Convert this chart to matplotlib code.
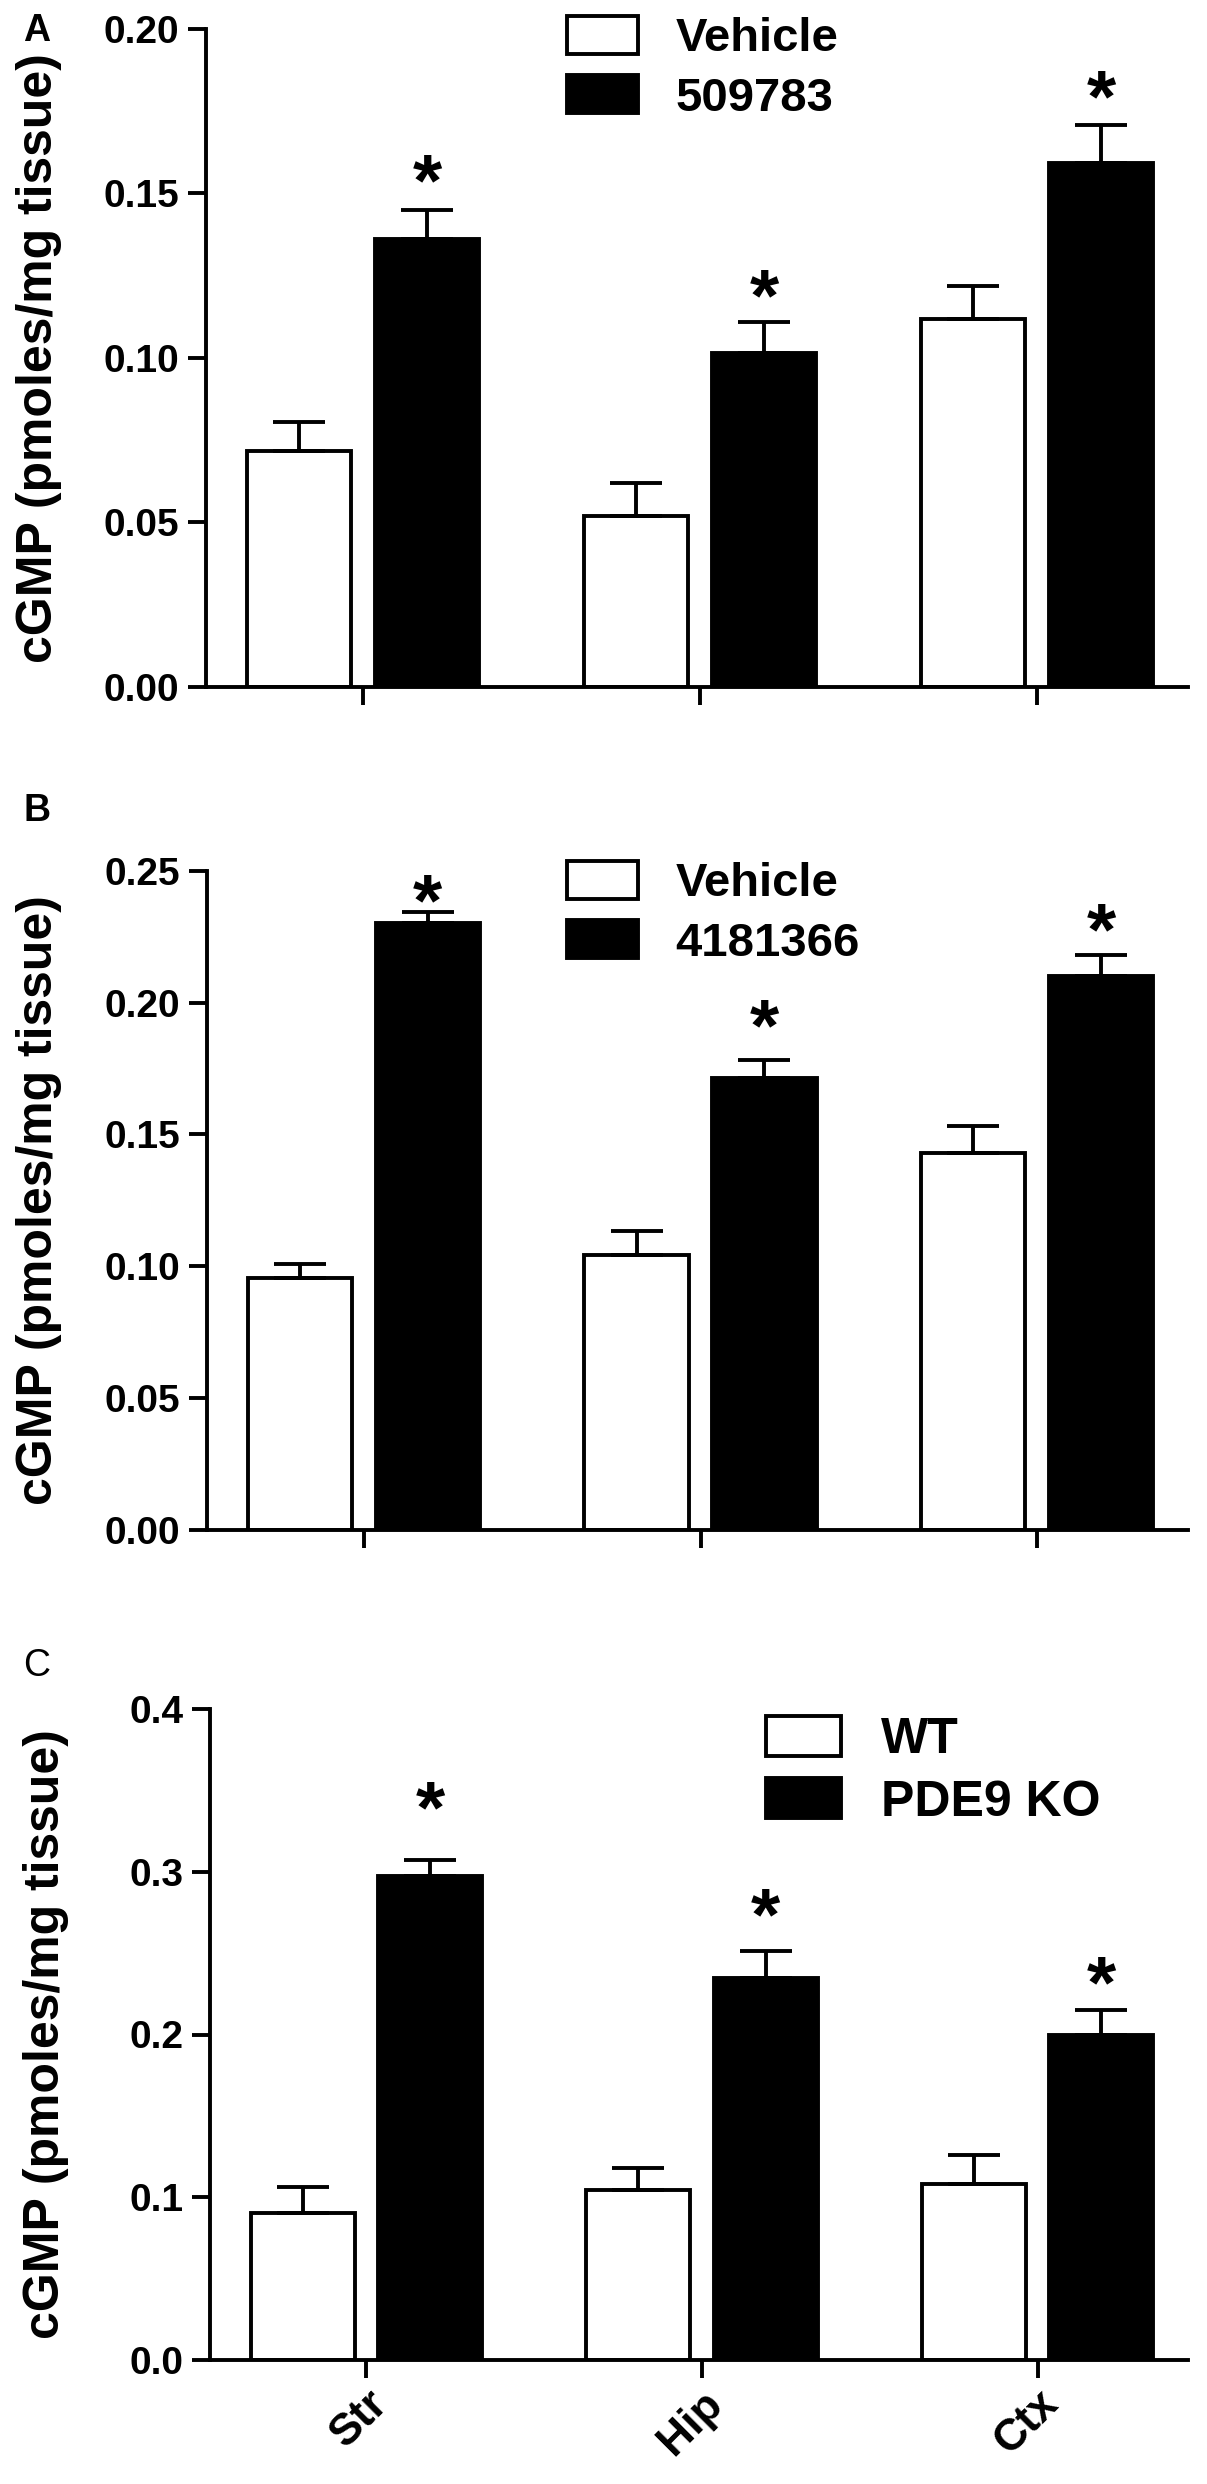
import numpy as np
import matplotlib
matplotlib.use("Agg")
from matplotlib import pyplot as plt
from matplotlib.ticker import FormatStrFormatter
import matplotlib.transforms as mtransforms

plt.rcParams['font.family'] = ['Liberation Sans', 'DejaVu Sans']

regions = ['Str', 'Hip', 'Ctx']

# panel A: Vehicle vs 509783
a_vehicle = [0.0717, 0.052, 0.1118]
a_vehicle_sem = [0.0088, 0.010, 0.010]
a_drug = [0.136, 0.1015, 0.1593]
a_drug_sem = [0.009, 0.0095, 0.0115]
a_stars = [0.159, 0.124, 0.1845]

# panel B: Vehicle vs 4181366
b_vehicle = [0.0955, 0.1042, 0.1428]
b_vehicle_sem = [0.0052, 0.0093, 0.0105]
b_drug = [0.2304, 0.1714, 0.210]
b_drug_sem = [0.0041, 0.007, 0.0082]
b_stars = [0.2453, 0.1976, 0.234]

# panel C: WT vs PDE9 KO
c_wt = [0.0905, 0.1047, 0.108]
c_wt_sem = [0.016, 0.0133, 0.018]
c_ko = [0.2975, 0.235, 0.1995]
c_ko_sem = [0.0095, 0.016, 0.0154]
c_stars = [0.350, 0.284, 0.242]

W, H = 1207, 2484
fig = plt.figure(figsize=(W / 100, H / 100), dpi=100)

LW = 2.8
ylab = 'cGMP (pmoles/mg tissue)'


def px_axes(left, top, right, bottom):
    return fig.add_axes([left / W, 1 - bottom / H, (right - left) / W, (bottom - top) / H])


def draw_panel(ax, v1, e1, v2, e2, stars, names, ymax, step, fmt, lab_x, leg_xy, leg_fs):
    x = np.arange(len(regions))
    b1 = ax.bar(x - 0.19, v1, width=0.31, color='white', edgecolor='black', linewidth=LW, label=names[0], zorder=2)
    b2 = ax.bar(x + 0.19, v2, width=0.31, color='black', edgecolor='black', linewidth=LW, label=names[1], zorder=2)
    ax.errorbar(x - 0.19, v1, yerr=[np.zeros(3), e1], fmt='none', ecolor='black',
                elinewidth=LW, capsize=19, capthick=LW, zorder=3)
    ax.errorbar(x + 0.19, v2, yerr=[np.zeros(3), e2], fmt='none', ecolor='black',
                elinewidth=LW, capsize=19, capthick=LW, zorder=3)
    off = mtransforms.offset_copy(ax.transData, fig=fig, y=-30, units='points')
    for xi, s in zip(x + 0.19, stars):
        ax.text(xi, s, '*', ha='center', va='baseline', fontsize=54, fontweight='bold', transform=off)
    ax.set_xlim(-0.466, 2.448)
    ax.set_ylim(0, ymax)
    ax.set_yticks(np.arange(0, ymax + step / 2, step))
    ax.yaxis.set_major_formatter(FormatStrFormatter(fmt))
    ax.set_xticks(x)
    ax.set_xticklabels([])
    for s in ['top', 'right']:
        ax.spines[s].set_visible(False)
    for s in ['left', 'bottom']:
        ax.spines[s].set_linewidth(LW)
    ax.tick_params(axis='both', length=13, width=LW, direction='out')
    ax.tick_params(axis='y', labelsize=28, pad=6)
    for t in ax.get_yticklabels():
        t.set_fontweight('bold')
    ax.set_ylabel(ylab, fontsize=36, fontweight='bold')
    ax.yaxis.set_label_coords(lab_x, 0.5)
    ax.legend(handles=[b1, b2], loc='upper left', bbox_to_anchor=leg_xy, bbox_transform=fig.transFigure,
              frameon=False, borderpad=0, borderaxespad=0,
              prop={'weight': 'bold', 'size': leg_fs},
              handlelength=1.5, handleheight=0.85, handletextpad=0.8, labelspacing=0.3)


ax_a = px_axes(206, 28.6, 1188, 687)
draw_panel(ax_a, a_vehicle, a_vehicle_sem, a_drug, a_drug_sem, a_stars, ['Vehicle', '509783'],
           0.20, 0.05, '%.2f', (62 - 206) / 982, (567 / W, 1 - 16 / H), 34)

ax_b = px_axes(207, 871, 1188, 1529.5)
draw_panel(ax_b, b_vehicle, b_vehicle_sem, b_drug, b_drug_sem, b_stars, ['Vehicle', '4181366'],
           0.25, 0.05, '%.2f', (62 - 207) / 981, (567 / W, 1 - 861 / H), 34)

ax_c = px_axes(210, 1709, 1188, 2360)
draw_panel(ax_c, c_wt, c_wt_sem, c_ko, c_ko_sem, c_stars, ['WT', 'PDE9 KO'],
           0.4, 0.1, '%.1f', (69 - 210) / 978, (766 / W, 1 - 1716 / H), 36)
ax_c.set_xticklabels(regions, rotation=45, ha='right', va='top', rotation_mode='anchor',
                     fontsize=32, fontweight='bold')

for letter, yy in [('A', 31), ('B', 811), ('C', 1666)]:
    fig.text(37 / W, 1 - yy / H, letter, ha='center', va='center', fontsize=27,
             fontweight='bold' if letter != 'C' else 'normal')

fig.savefig('out.png', dpi=100)
